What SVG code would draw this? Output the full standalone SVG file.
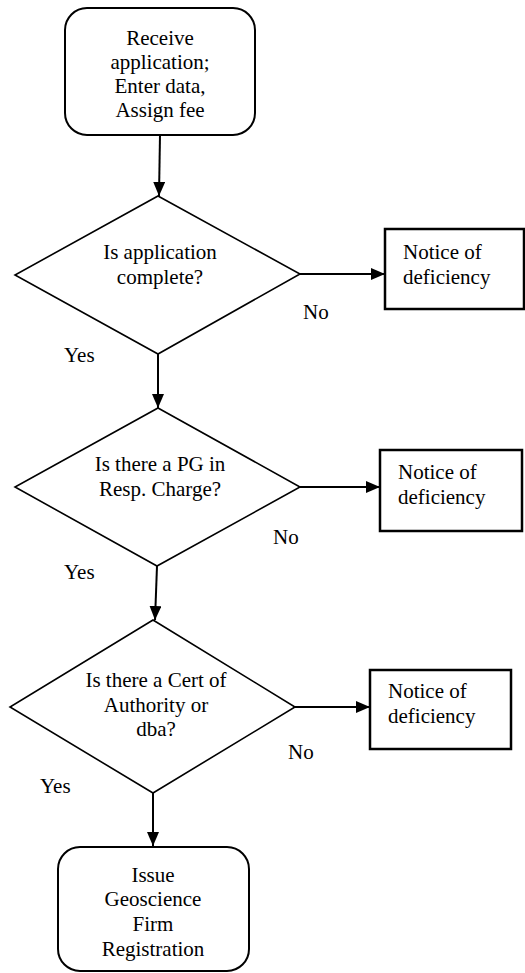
<svg xmlns="http://www.w3.org/2000/svg" width="525" height="973" viewBox="0 0 525 973">
  <style>
    text { font-family: "Liberation Serif", "Times New Roman", Times, Tinos, "Nimbus Roman", "Noto Serif", "DejaVu Serif", FreeSerif, serif; font-size: 21px; fill: #000; }
    .c { text-anchor: middle; }
    .term { fill: #fff; stroke: #000; stroke-width: 2; }
    .dec { fill: #fff; stroke: #000; stroke-width: 1.6; }
    .box { fill: #fff; stroke: #000; stroke-width: 2.5; }
    .flow { fill: none; stroke: #000; stroke-width: 2; marker-end: url(#arrow); }
  </style>
  <defs>
    <marker id="arrow" viewBox="0 0 14 12" refX="14" refY="6" markerWidth="14" markerHeight="12" markerUnits="userSpaceOnUse" orient="auto">
      <path d="M0,0 L14,6 L0,12 Z" fill="#000"/>
    </marker>
  </defs>
  <rect width="525" height="973" fill="#fff"/>

  <g id="connectors">
    <line class="flow" x1="160" y1="135" x2="159" y2="196"/>
    <line class="flow" x1="300" y1="274" x2="385" y2="274"/>
    <line class="flow" x1="158" y1="354" x2="158" y2="408"/>
    <line class="flow" x1="300" y1="487" x2="380" y2="487"/>
    <line class="flow" x1="157" y1="566" x2="155" y2="620"/>
    <line class="flow" x1="295" y1="707" x2="370" y2="707"/>
    <line class="flow" x1="153" y1="793" x2="153" y2="846"/>
  </g>

  <g id="start">
    <rect class="term" x="65" y="8" width="190" height="127" rx="22"/>
    <text class="c" x="160" y="45">Receive</text>
    <text class="c" x="160" y="69">application;</text>
    <text class="c" x="160" y="93">Enter data,</text>
    <text class="c" x="160" y="117">Assign fee</text>
  </g>

  <g id="check-complete">
    <polygon class="dec" points="158,196 300,274 158,354 15,275"/>
    <text class="c" x="160" y="259">Is application</text>
    <text class="c" x="160" y="284">complete?</text>
  </g>
  <g id="notice-1">
    <rect class="box" x="385" y="229" width="139" height="80"/>
    <text x="403" y="259">Notice of</text>
    <text x="403" y="284">deficiency</text>
  </g>
  <text id="no-1" x="303" y="319">No</text>
  <text id="yes-1" x="64" y="362">Yes</text>

  <g id="check-pg">
    <polygon class="dec" points="158,408 300,487 157,566 15,487"/>
    <text class="c" x="160" y="471">Is there a PG in</text>
    <text class="c" x="160" y="496">Resp. Charge?</text>
  </g>
  <g id="notice-2">
    <rect class="box" x="380" y="450" width="142" height="81"/>
    <text x="398" y="479">Notice of</text>
    <text x="398" y="504">deficiency</text>
  </g>
  <text id="no-2" x="273" y="544">No</text>
  <text id="yes-2" x="64" y="579">Yes</text>

  <g id="check-cert">
    <polygon class="dec" points="153,620 295,707 153,793 10,707"/>
    <text class="c" x="156" y="687">Is there a Cert of</text>
    <text class="c" x="156" y="712">Authority or</text>
    <text class="c" x="156" y="736">dba?</text>
  </g>
  <g id="notice-3">
    <rect class="box" x="370" y="670" width="141" height="79"/>
    <text x="388" y="698">Notice of</text>
    <text x="388" y="723">deficiency</text>
  </g>
  <text id="no-3" x="288" y="759">No</text>
  <text id="yes-3" x="40" y="793">Yes</text>

  <g id="issue">
    <rect class="term" x="58" y="847" width="191" height="124" rx="22"/>
    <text class="c" x="153" y="882">Issue</text>
    <text class="c" x="153" y="906">Geoscience</text>
    <text class="c" x="153" y="931">Firm</text>
    <text class="c" x="153" y="956">Registration</text>
  </g>
</svg>
